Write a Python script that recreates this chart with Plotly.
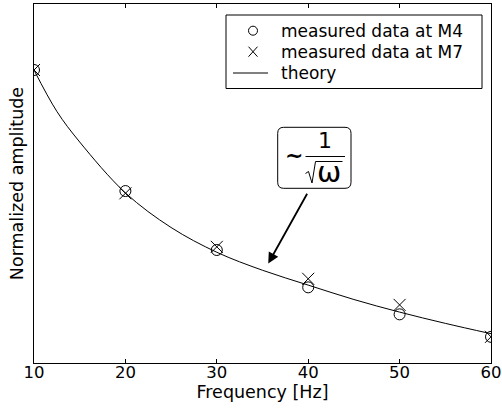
import plotly.graph_objects as go

# ---- data ----
freq_theory = [10, 12.5, 15, 20, 25, 30, 35, 40, 45, 50, 55, 60]
amp_theory = [1.000, 0.908, 0.840, 0.727, 0.650, 0.595, 0.555, 0.522, 0.490, 0.462, 0.437, 0.414]
freq_meas = [10, 20, 30, 40, 50, 60]
amp_m4 = [1.000, 0.731, 0.600, 0.517, 0.457, 0.407]
amp_m7 = [1.000, 0.726, 0.607, 0.536, 0.478, 0.407]
x_ticks = [10, 20, 30, 40, 50, 60]
x_tick_labels = ["10", "20", "30", "40", "50", "60"]
legend_names = ["measured data at M4", "measured data at M7", "theory"]
arrow_target = (35.63, 0.570)

W, H = 502, 416
ML, MR, MT, MB = 34, 11, 4, 53
PW, PH = W - ML - MR, H - MT - MB
FONT = "DejaVu Sans, Verdana, sans-serif"


def px(x):
    return (x - ML) / PW


def py(y):
    return (H - MB - y) / PH


fig = go.Figure()
fig.add_trace(go.Scatter(x=freq_meas, y=amp_m4, mode="markers", name=legend_names[0], showlegend=False,
                         marker=dict(symbol="circle-open", size=11, color="black", line=dict(width=1, color="black"))))
fig.add_trace(go.Scatter(x=freq_meas, y=amp_m7, mode="markers", name=legend_names[1], showlegend=False,
                         marker=dict(symbol="x-thin-open", size=12, color="black", line=dict(width=1, color="black"))))
fig.add_trace(go.Scatter(x=freq_theory, y=amp_theory, mode="lines", name=legend_names[2], showlegend=False,
                         line=dict(color="black", width=1, shape="spline", smoothing=1.0)))

BLK = dict(color="black", width=1)
shapes = []
annotations = []


def rounded_rect(x0, y0, x1, y1, r):
    return (f"M {px(x0 + r)},{py(y0)} L {px(x1 - r)},{py(y0)} Q {px(x1)},{py(y0)} {px(x1)},{py(y0 + r)} "
            f"L {px(x1)},{py(y1 - r)} Q {px(x1)},{py(y1)} {px(x1 - r)},{py(y1)} "
            f"L {px(x0 + r)},{py(y1)} Q {px(x0)},{py(y1)} {px(x0)},{py(y1 - r)} "
            f"L {px(x0)},{py(y0 + r)} Q {px(x0)},{py(y0)} {px(x0 + r)},{py(y0)} Z")


# ---- legend (drawn by hand for exact spacing) ----
shapes.append(dict(type="rect", xref="paper", yref="paper", x0=px(226), x1=px(482), y0=py(15), y1=py(88.5),
                   line=BLK, fillcolor="white", layer="above"))
rows = [30.7, 51.7, 73.0]
sx = 253
shapes.append(dict(type="circle", xref="paper", yref="paper", x0=px(sx - 4.5), x1=px(sx + 4.5),
                   y0=py(rows[0] - 4.5), y1=py(rows[0] + 4.5), line=BLK, layer="above"))
shapes.append(dict(type="line", xref="paper", yref="paper", x0=px(sx - 4.5), x1=px(sx + 4.5),
                   y0=py(rows[1] - 5), y1=py(rows[1] + 5), line=BLK, layer="above"))
shapes.append(dict(type="line", xref="paper", yref="paper", x0=px(sx - 4.5), x1=px(sx + 4.5),
                   y0=py(rows[1] + 5), y1=py(rows[1] - 5), line=BLK, layer="above"))
shapes.append(dict(type="line", xref="paper", yref="paper", x0=px(233), x1=px(268),
                   y0=py(rows[2]), y1=py(rows[2]), line=BLK, layer="above"))
for name, ry in zip(legend_names, rows):
    annotations.append(dict(x=px(278.5), y=py(ry), xref="paper", yref="paper", text=name, showarrow=False,
                            xanchor="left", yanchor="middle", font=dict(size=17, color="black", family=FONT)))

# ---- formula box ----
shapes.append(dict(type="path", xref="paper", yref="paper", path=rounded_rect(277.7, 127.3, 351.0, 188.3, 6),
                   line=BLK, fillcolor="white", layer="above"))
shapes.append(dict(type="line", xref="paper", yref="paper", x0=px(305.5), x1=px(345), y0=py(156.5), y1=py(156.5),
                   line=BLK, layer="above"))
sq = [(305.5, 173.5), (308.5, 171.5), (312, 183), (315.5, 161.5), (342.5, 161.5)]
shapes.append(dict(type="path", xref="paper", yref="paper",
                   path="M " + " L ".join(f"{px(a)},{py(b)}" for a, b in sq), line=BLK, layer="above"))

annotations += [
    dict(x=arrow_target[0], y=arrow_target[1], xref="x", yref="y", text="", showarrow=True,
         ax=39.7, ay=-71.3, arrowhead=2, arrowsize=1.2, arrowwidth=1.8, arrowcolor="black"),
    dict(x=px(294), y=py(155), xref="paper", yref="paper", text="<b>~</b>", showarrow=False,
         font=dict(size=22, color="black", family=FONT)),
    dict(x=px(325), y=py(140), xref="paper", yref="paper", text="1", showarrow=False,
         font=dict(size=22, color="black", family=FONT)),
    dict(x=px(328.5), y=py(172), xref="paper", yref="paper", text="ω", showarrow=False,
         font=dict(size=29, color="black", family=FONT)),
]

fig.update_layout(
    width=W, height=H,
    margin=dict(l=ML, r=MR, t=MT, b=MB, autoexpand=False),
    paper_bgcolor="white", plot_bgcolor="white",
    font=dict(family=FONT, size=17, color="black"),
    showlegend=False,
    xaxis=dict(range=[10, 60], tickvals=x_ticks, ticktext=x_tick_labels, ticks="inside", ticklen=4,
               tickcolor="black", showline=True, linecolor="black", linewidth=1, mirror="ticks",
               showgrid=False, zeroline=False, tickfont=dict(size=16.5), ticklabelstandoff=-6,
               automargin=False,
               title=dict(text="Frequency [Hz]", font=dict(size=17.5), standoff=0)),
    yaxis=dict(range=[1 - 293 / 450, 1 + 66 / 450], showticklabels=False, ticks="",
               showline=True, linecolor="black", linewidth=1, mirror=True,
               showgrid=False, zeroline=False, automargin=False,
               title=dict(text="Normalized amplitude", font=dict(size=17.5), standoff=4)),
    shapes=shapes,
    annotations=annotations,
)

fig.write_html("out.html", config={"displayModeBar": False},
               post_script="document.body.style.margin='0px';document.body.style.padding='0px';")
